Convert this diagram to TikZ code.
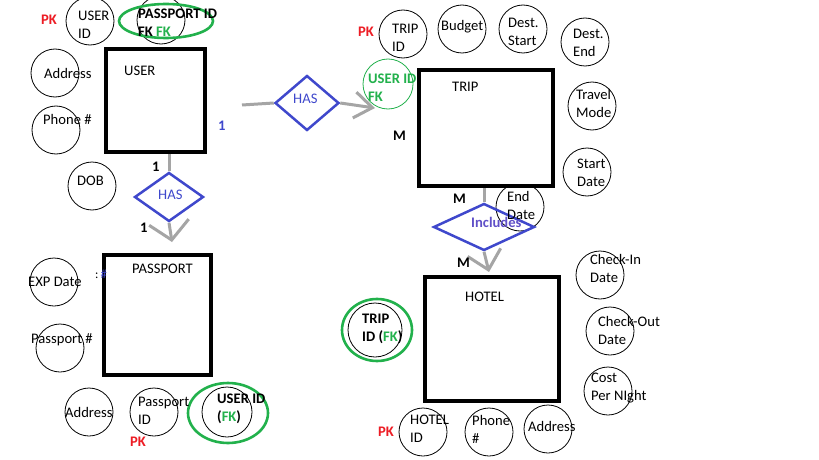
\documentclass[tikz,border=0pt]{standalone}
\usepackage{fontspec}
\setmainfont{Carlito}
\usetikzlibrary{shapes.geometric,arrows.meta}
\definecolor{pkred}{RGB}{237,28,36}
\definecolor{fkgreen}{RGB}{34,177,76}
\definecolor{relblue}{RGB}{63,72,204}
\definecolor{incblue}{RGB}{96,80,200}
\definecolor{lnk}{RGB}{165,165,165}
\newcommand{\fsz}{\fontsize{14.6}{18}\selectfont}
\begin{document}
\begin{tikzpicture}[x=1pt,y=-1pt,
 attr/.style={circle,draw,line width=0.8pt,inner sep=0,minimum size=48pt},
 fkring/.style={ellipse,draw=fkgreen,line width=2.6pt,inner sep=0},
 txt/.style={anchor=west,align=left,inner sep=0,font=\fsz},
 btxt/.style={anchor=west,align=left,inner sep=0,font=\fsz\bfseries},
 entity/.style={draw,line width=4pt,fill=white,inner sep=0},
 rel/.style={diamond,draw=relblue,line width=2.5pt,inner sep=0},
 conn/.style={draw=lnk,line width=3pt},
 barbA/.style={-{Straight Barb[length=18pt,width=40pt]}},
 barbB/.style={-{Straight Barb[length=18pt,width=26pt]}},
 barbC/.style={-{Straight Barb[length=18pt,width=34pt]}},
 pk/.style={btxt,text=pkred}]
\fill[white] (0,0) rectangle (819,460);
\useasboundingbox (0,0) rectangle (819,460);

% ---------- attribute circles ----------
\node[attr] (uid) at (90,21) {};
\node[attr] (pid) at (161,20) {};
\node[attr] (uaddr) at (55,73) {};
\node[attr] (uphone) at (56,130) {};
\node[attr] (dob) at (92,186) {};
\node[attr] (tid) at (403,34) {};
\node[attr] (budget) at (462,29) {};
\node[attr] (dstart) at (523,29) {};
\node[attr] (dend) at (585,42) {};
\node[attr] (tmode) at (592,106) {};
\node[attr] (sdate) at (587,172) {};
\node[attr] (edate) at (520,207) {};
\node[attr,draw=fkgreen,minimum size=50pt] (uidfk) at (388,84) {};
\node[attr] (exp) at (54,282) {};
\node[attr] (ppnum) at (60,348) {};
\node[attr] (paddr) at (89,412) {};
\node[attr] (ppid) at (154,412) {};
\node[attr,minimum size=50pt] (puid) at (227,412) {};
\node[attr,minimum size=54pt] (tidfk) at (375,330) {};
\node[attr] (checkin) at (600,275) {};
\node[attr] (checkout) at (610,331) {};
\node[attr] (cost) at (608,391) {};
\node[attr] (hid) at (423,432) {};
\node[attr] (hphone) at (489,432) {};
\node[attr] (haddr) at (548,429) {};

% ---------- green FK rings ----------
\node[fkring,minimum width=94pt,minimum height=34pt] (ring1) at (166,21) {};
\node[fkring,minimum width=80pt,minimum height=60pt] (ring2) at (228,413) {};
\node[fkring,minimum width=70pt,minimum height=62pt] (ring3) at (377,330) {};

% ---------- entities ----------
\node[entity,minimum width=99pt,minimum height=103pt] (user) at (155.5,100.5) {};
\node[entity,minimum width=134pt,minimum height=116pt] (trip) at (486,128) {};
\node[entity,minimum width=107pt,minimum height=120pt] (passport) at (157.5,315) {};
\node[entity,minimum width=134pt,minimum height=124pt] (hotel) at (492,339) {};

% ---------- relationships ----------
\node[rel,minimum width=69pt,minimum height=49pt] (has1) at (169,197) {};
\node[rel,minimum width=64pt,minimum height=55pt] (has2) at (307,103) {};
\node[rel,minimum width=101pt,minimum height=47pt] (inc) at (484,227) {};

% ---------- connectors ----------
\coordinate (h1tip) at (172,242);
\coordinate (h2start) at (242,105);
\coordinate (h2tip) at (375,108);
\coordinate (inctip) at (489,272);
\draw[conn] (has1.north |- user.south) -- (has1.north);
\draw[conn,barbA] (has1.south) -- (h1tip);
\draw[conn] (h2start) -- (has2.west);
\draw[conn,barbB] (has2.east) -- (h2tip);
\draw[conn] (inc.north |- trip.south) -- (inc.north);
\draw[conn,barbC] (inc.south) -- (inctip);

% ---------- texts: USER ----------
\node[pk] (pk1) at (41,20) {PK};
\node[txt] (uidt) at (78,25) {USER\\ID};
\node[btxt] (pidt) at (138,22.5) {PASSPORT ID\\FK \textcolor{fkgreen}{FK}};
\node[txt] (uaddrt) at (44,73) {Address};
\node[txt] (uphonet) at (43,119) {Phone \#};
\node[txt] (usert) at (124,71) {USER};
\node[btxt,text=relblue] (c1) at (218,126) {1};
\node[txt] (dobt) at (77,181) {DOB};
\node[btxt] (c2) at (152,167) {1};
\node[txt,text=relblue] (has1t) at (158,195) {HAS};
\node[btxt] (c3) at (140,228) {1};
\node[txt,text=relblue] (has2t) at (293,99) {HAS};

% ---------- texts: TRIP ----------
\node[btxt,text=fkgreen] (uidfkt) at (368,88) {USER ID\\FK};
\node[btxt] (c4) at (393,136) {M};
\node[pk] (pk2) at (358,32) {PK};
\node[txt] (tidt) at (392,37.5) {TRIP\\ID};
\node[txt] (budgett) at (441,27) {Budget};
\node[txt] (dstartt) at (508,31.5) {Dest.\\Start};
\node[txt] (dendt) at (573,43) {Dest.\\End};
\node[txt] (tript) at (452,87) {TRIP};
\node[txt] (tmodet) at (576,103.5) {Travel\\Mode};
\node[txt] (sdatet) at (577,173) {Start\\Date};
\node[txt] (edatet) at (507,205.5) {End\\Date};
\node[btxt] (c5) at (453,199) {M};
\node[btxt,text=incblue] (inct) at (471,222) {Includes};
\node[btxt] (c6) at (457,263) {M};

% ---------- texts: PASSPORT ----------
\node[txt] (expt) at (28,282) {EXP Date};
\node[txt,font=\fontsize{12.5}{14}\selectfont] (colt) at (95,274) {:\,\textcolor{relblue}{\#}};
\node[txt] (passportt) at (132,269) {PASSPORT};
\node[txt] (ppnumt) at (31,340) {Passport \#};
\node[txt] (paddrt) at (65,412) {Address};
\node[txt] (ppidt) at (138,410.5) {Passport\\ID};
\node[pk] (pk3) at (130,442) {PK};
\node[btxt] (puidt) at (217,408.5) {USER ID\\(\textcolor{fkgreen}{FK})};

% ---------- texts: HOTEL ----------
\node[btxt] (tidfkt) at (362,328.5) {TRIP\\ID (\textcolor{fkgreen}{FK})};
\node[txt] (hotelt) at (465,297) {HOTEL};
\node[txt] (checkint) at (590,268) {Check-In\\Date};
\node[txt] (checkoutt) at (598,330.5) {Check-Out\\Date};
\node[txt] (costt) at (591,388) {Cost\\Per NIght};
\node[txt] (hidt) at (410,429) {HOTEL\\ID};
\node[pk] (pk4) at (378,432) {PK};
\node[txt] (hphonet) at (472,429) {Phone\\\#};
\node[txt] (haddrt) at (528,426) {Address};
\end{tikzpicture}
\end{document}
